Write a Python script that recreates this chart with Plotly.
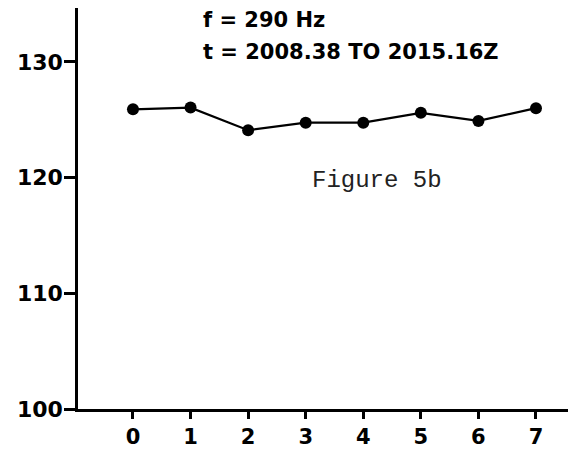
import plotly.graph_objects as go

# Data
x_vals = [0, 1, 2, 3, 4, 5, 6, 7]
y_vals = [125.9, 126.05, 124.1, 124.75, 124.75, 125.6, 124.9, 126.0]
x_ticks = [0, 1, 2, 3, 4, 5, 6, 7]
y_ticks = [100, 110, 120, 130]
label_f = "f = 290 Hz"
label_t = "t = 2008.38 TO 2015.16Z"
label_fig = "Figure 5b"

bold_font = "DejaVu Sans, Liberation Sans, Arial, sans-serif"

fig = go.Figure()
fig.add_trace(go.Scatter(
    x=x_vals, y=y_vals, mode="lines+markers",
    line=dict(color="black", width=2.2),
    marker=dict(color="black", size=12),
    showlegend=False,
))

# page body has an 8px default margin, so the figure is offset by 8px
fig.update_layout(
    width=568, height=441,
    margin=dict(l=70, r=0, t=0, b=40),
    paper_bgcolor="white", plot_bgcolor="white",
    xaxis=dict(
        range=[-0.955, 7.695], tickvals=x_ticks, ticktext=[str(v) for v in x_ticks],
        showline=True, linecolor="black", linewidth=2.5,
        ticks="outside", ticklen=7, tickwidth=2.5, tickcolor="black",
        showgrid=False, zeroline=False,
        tickfont=dict(family=bold_font, size=21, color="black", weight="bold"),
    ),
    yaxis=dict(
        range=[100, 134.66], tickvals=y_ticks, ticktext=[str(v) for v in y_ticks],
        showline=True, linecolor="black", linewidth=2.5,
        ticks="outside", ticklen=11, tickwidth=2.5, tickcolor="black",
        ticklabelstandoff=-3,
        showgrid=False, zeroline=False,
        tickfont=dict(family=bold_font, size=22, color="black", weight="bold"),
    ),
    annotations=[
        dict(text=label_f, xref="paper", yref="paper", x=0.246, y=0.970,
             xanchor="left", yanchor="middle", showarrow=False,
             font=dict(family=bold_font, size=21, color="black", weight="bold")),
        dict(text=label_t, xref="paper", yref="paper", x=0.246, y=0.890,
             xanchor="left", yanchor="middle", showarrow=False,
             font=dict(family=bold_font, size=21, color="black", weight="bold")),
        dict(text=label_fig, xref="paper", yref="paper", x=0.466, y=0.571,
             xanchor="left", yanchor="middle", showarrow=False,
             font=dict(family="Liberation Mono, DejaVu Sans Mono, monospace", size=24, color="#222")),
    ],
)

fig.write_html("out.html")
